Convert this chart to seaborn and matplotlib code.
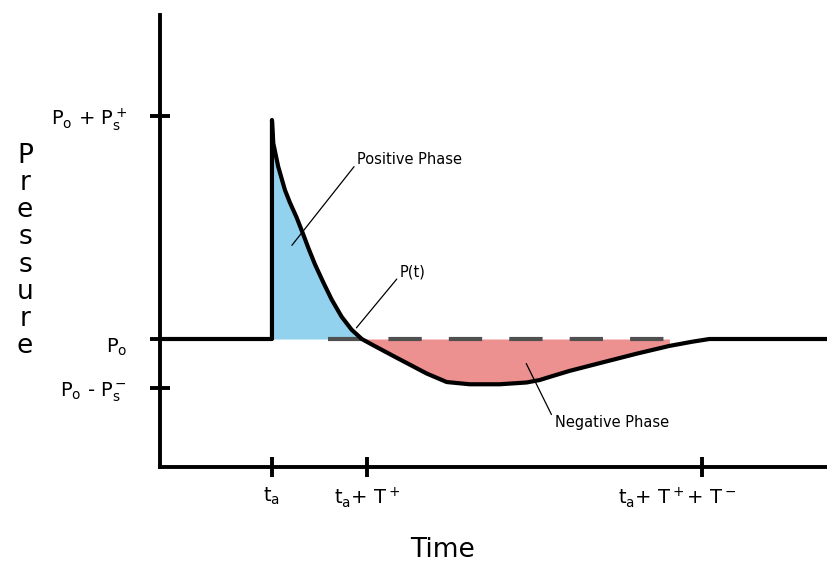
import numpy as np
import matplotlib
matplotlib.use("Agg")
import matplotlib.pyplot as plt
import matplotlib.transforms as mtransforms
import seaborn as sns

sns.set_style("white")
plt.rcParams["font.family"] = ["DejaVu Sans"]
plt.rcParams["mathtext.default"] = "regular"
plt.rcParams["text.color"] = "black"
plt.rcParams["axes.labelcolor"] = "black"
plt.rcParams["xtick.color"] = "black"
plt.rcParams["ytick.color"] = "black"

# Curva de pressao (tempo normalizado: t_a = 0, t_a + T+ = 1; pressao: P_o = 0, P_o + P_s+ = 1)
tempo = [-1.18, 0.0, 0.0, 0.003, 0.014, 0.066, 0.137, 0.189, 0.26, 0.329, 0.382, 0.453,
         0.54, 0.628, 0.734, 0.839, 0.947, 1.063, 1.274, 1.453, 1.632, 1.842, 2.084,
         2.4, 2.684, 2.821, 2.958, 3.137, 3.484, 3.842, 4.189, 4.432, 4.61, 5.85]
pressao = [0.0, 0.0, 0.982, 0.967, 0.878, 0.773, 0.668, 0.612, 0.545, 0.47, 0.41, 0.335,
           0.255, 0.178, 0.10, 0.042, 0.0, -0.027, -0.075, -0.115, -0.155, -0.193, -0.203,
           -0.203, -0.195, -0.184, -0.166, -0.143, -0.105, -0.066, -0.031, -0.012, 0.0, 0.0]

xticks = [0.0, 1.0, 4.537]
xlabels = ["t$_a$", "t$_a$+ T$^+$", "t$_a$+ T$^+$+ T$^-$"]
yticks = [1.0, 0.0, -0.22]
ylabels = ["P$_o$ + P$_s^+$", "P$_o$", "P$_o$ - P$_s^-$"]

t = np.array(tempo)
p = np.array(pressao)

fig = plt.figure(figsize=(8.27, 5.65), dpi=100)
ax = fig.add_axes([160 / 827, 98 / 565, 667 / 827, 452 / 565])

# fases positiva e negativa
pos = (t >= 0) & (t <= 0.95)
ax.fill_between(t[pos][1:], 0, p[pos][1:], color="#92d2ee", lw=0)
neg = (t >= 0.94) & (t <= 4.3)
ax.fill_between(t[neg], 0, p[neg], color="#ec9090", lw=0)

# linha de referencia P_o tracejada
ax.plot([0.59, 4.22], [0, 0], color="#505050", lw=3, linestyle=(0, (8, 6.5)),
        solid_capstyle="butt")

sns.lineplot(x=tempo, y=pressao, ax=ax, color="black", lw=3, sort=False, estimator=None,
             solid_joinstyle="round")

ax.set_xlim(-1.18, 5.85)
ax.set_ylim(-0.574, 1.453)
for s in ["top", "right"]:
    ax.spines[s].set_visible(False)
for s in ["left", "bottom"]:
    ax.spines[s].set_linewidth(2.8)
    ax.spines[s].set_color("black")

ax.set_xticks(xticks)
ax.set_xticklabels(xlabels, fontsize=14)
ax.set_yticks(yticks)
ax.set_yticklabels(ylabels, fontsize=14)
ax.tick_params(axis="both", direction="inout", length=15, width=2.8, color="black",
               bottom=True, left=True)
ax.tick_params(axis="x", pad=6)
ax.tick_params(axis="y", pad=16)

# desloca rotulos para ficarem como na figura original
lbl = ax.get_xticklabels()[2]
lbl.set_transform(lbl.get_transform() + mtransforms.ScaledTranslation(-25 / 100, 0, fig.dpi_scale_trans))
lbl_po = ax.get_yticklabels()[1]
lbl_po.set_transform(lbl_po.get_transform() + mtransforms.ScaledTranslation(0, -6 / 100, fig.dpi_scale_trans))

ax.set_xlabel("Time", fontsize=19)
ax.xaxis.set_label_coords((443 - 160) / 667, -0.155)
fig.text(25 / 827, 1 - 251 / 565, "P\nr\ne\ns\ns\nu\nr\ne", fontsize=19, ha="center", va="center",
         linespacing=1.06)

# anotacoes
ax.annotate("Positive Phase", xy=(0.21, 0.42), xytext=(0.90, 0.805), fontsize=10.5,
            va="center", ha="left",
            arrowprops=dict(arrowstyle="-", color="black", lw=0.9, shrinkA=0, shrinkB=0,
                            relpos=(0, 0.3)))
ax.annotate("P(t)", xy=(0.89, 0.05), xytext=(1.35, 0.30), fontsize=10.5, va="center", ha="left",
            arrowprops=dict(arrowstyle="-", color="black", lw=0.9, shrinkA=0, shrinkB=0,
                            relpos=(0, 0.3)))
ax.annotate("Negative Phase", xy=(2.68, -0.11), xytext=(2.98, -0.375), fontsize=10.5,
            va="center", ha="left",
            arrowprops=dict(arrowstyle="-", color="black", lw=0.9, shrinkA=0, shrinkB=0,
                            relpos=(0, 0.6)))

fig.savefig("out.png", dpi=100)
